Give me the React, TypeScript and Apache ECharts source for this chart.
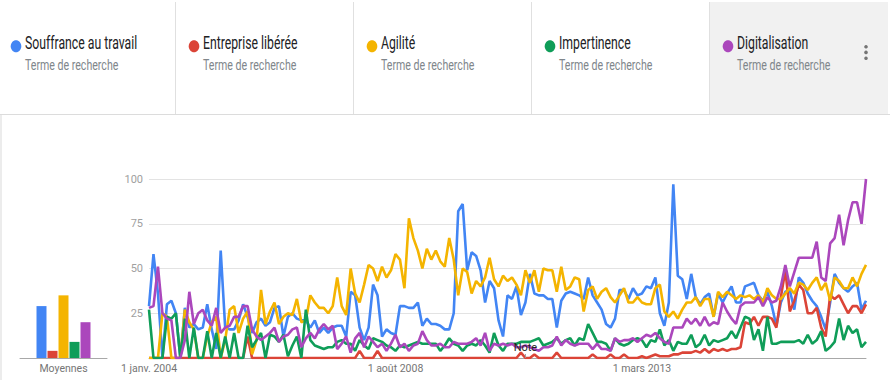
import React, { useEffect, useRef } from "react";
import * as echarts from "echarts";

const terms = ["Souffrance au travail", "Entreprise libérée", "Agilité", "Impertinence", "Digitalisation"];
const colors = ["#4285f4", "#db4437", "#f4b400", "#0f9d58", "#ab47bc"];
const subtitle = "Terme de recherche";
const averages = [29, 4, 35, 9, 20];
const avgLabel = "Moyennes";
const monthNames = ["janv.", "févr.", "mars", "avr.", "mai", "juin", "juil.", "août", "sept.", "oct.", "nov.", "déc."];
const startYear = 2004;
const noteIndex = 84;

const blue = [
  29, 58, 36, 0, 30, 32, 25, 0, 28, 17, 19, 16, 17, 30, 16, 5, 60, 17, 16, 16, 21, 30, 23,
  14, 20, 22, 18, 20, 28, 29, 12, 23, 25, 22, 21, 21, 17, 21, 14, 17, 14, 17, 18, 18, 12,
  37, 35, 17, 10, 17, 41, 35, 12, 16, 14, 13, 29, 29, 28, 28, 31, 18, 22, 19, 19, 18, 16, 16,
  25, 82, 86, 49, 59, 57, 49, 31, 43, 39, 21, 12, 35, 33, 40, 24, 31, 47, 36, 35, 35, 33,
  33, 17, 32, 36, 37, 36, 35, 33, 45, 35, 31, 27, 19, 17, 22, 38, 38, 33, 39, 35, 36, 40,
  39, 45, 25, 18, 31, 97, 46, 44, 33, 47, 34, 30, 34, 36, 23, 36, 31, 36, 40, 31, 31, 40,
  41, 42, 35, 32, 37, 29, 18, 31, 37, 38, 27, 45, 42, 36, 32, 29, 23, 16, 31, 47, 42, 39, 37, 40, 42, 27, 32,
];
const red = [
  0, 0, 0, 0, 0, 0, 0, 0, 0, 0, 0, 0, 0, 0, 0, 0, 0, 0, 0, 0, 0, 0, 12,
  0, 0, 0, 0, 0, 0, 0, 0, 0, 0, 0, 0, 0, 0, 0, 0, 0, 0, 0, 0, 0, 0,
  0, 0, 4, 0, 0, 0, 4, 0, 0, 0, 0, 0, 0, 0, 0, 0, 0, 0, 0, 0, 0, 0, 0,
  0, 0, 0, 0, 0, 0, 0, 0, 0, 0, 0, 0, 0, 0, 0, 3, 0, 0, 2, 0, 0, 0,
  0, 3, 0, 0, 0, 0, 0, 0, 0, 2, 0, 0, 0, 2, 0, 0, 2, 0, 0, 0, 1, 0,
  1, 2, 1, 1, 1, 2, 2, 3, 3, 3, 4, 3, 5, 3, 5, 4, 5, 4, 5, 5, 6, 20,
  19, 23, 18, 23, 23, 22, 17, 34, 49, 26, 32, 41, 38, 25, 25, 28, 17, 12, 35, 33, 35, 30, 25, 29, 29, 25, 30,
];
const yellow = [
  0, 0, 0, 25, 23, 0, 0, 0, 27, 20, 16, 0, 0, 12, 20, 23, 0, 10, 27, 29, 14, 22, 26,
  2, 10, 38, 19, 26, 31, 19, 23, 25, 24, 33, 20, 21, 35, 31, 28, 28, 25, 29, 45, 29, 24,
  50, 36, 31, 41, 52, 50, 43, 51, 45, 49, 58, 55, 39, 78, 67, 60, 50, 61, 55, 60, 54, 51, 67,
  55, 35, 50, 48, 36, 43, 40, 45, 56, 44, 40, 46, 43, 45, 41, 35, 49, 42, 49, 37, 50, 49,
  49, 37, 51, 38, 40, 45, 44, 26, 38, 40, 33, 37, 39, 34, 31, 35, 39, 31, 31, 34, 31, 30,
  30, 39, 41, 26, 23, 26, 22, 27, 31, 31, 34, 29, 33, 33, 23, 37, 34, 37, 35, 33, 35, 34,
  35, 33, 35, 31, 39, 35, 33, 33, 36, 39, 36, 42, 41, 38, 42, 45, 38, 42, 32, 45, 43, 39, 39, 45, 40, 47, 52,
];
const green = [
  27, 0, 0, 0, 23, 22, 25, 0, 22, 0, 17, 0, 0, 15, 0, 14, 0, 12, 0, 14, 0, 0, 18,
  6, 10, 14, 0, 13, 12, 9, 13, 1, 7, 12, 0, 27, 10, 7, 6, 5, 6, 6, 9, 10, 8,
  8, 4, 10, 7, 5, 11, 10, 9, 7, 6, 4, 7, 6, 7, 8, 9, 8, 8, 8, 8, 4, 7, 11,
  8, 7, 4, 7, 8, 7, 10, 7, 3, 14, 7, 4, 8, 8, 8, 9, 9, 9, 10, 11, 7, 8,
  9, 11, 8, 10, 11, 7, 11, 10, 19, 14, 9, 9, 8, 4, 11, 8, 7, 8, 10, 11, 10, 6,
  10, 9, 16, 7, 10, 4, 9, 8, 8, 13, 6, 8, 13, 7, 10, 9, 10, 11, 15, 11, 17, 23,
  22, 10, 16, 4, 23, 8, 8, 9, 9, 9, 9, 10, 8, 13, 8, 10, 15, 4, 6, 9, 22, 10, 18, 14, 16, 6, 9,
];
const purple = [
  28, 29, 51, 25, 22, 21, 0, 0, 10, 37, 19, 25, 27, 21, 18, 28, 14, 17, 18, 23, 23, 29, 29,
  16, 12, 10, 12, 14, 17, 9, 12, 13, 16, 17, 6, 11, 14, 11, 16, 19, 16, 18, 5, 8, 12,
  3, 11, 14, 6, 12, 9, 6, 8, 4, 8, 13, 6, 8, 4, 7, 8, 15, 10, 7, 7, 8, 6, 6,
  9, 8, 8, 8, 9, 11, 7, 14, 4, 8, 7, 8, 7, 8, 6, 6, 7, 6, 5, 4, 6, 6,
  7, 12, 7, 10, 8, 7, 8, 8, 8, 5, 8, 5, 5, 4, 11, 9, 10, 10, 11, 9, 11, 13,
  12, 14, 11, 9, 8, 17, 17, 17, 22, 19, 22, 18, 23, 18, 20, 19, 31, 26, 22, 19, 29, 31,
  31, 31, 34, 29, 34, 31, 32, 40, 52, 40, 48, 56, 56, 56, 56, 65, 45, 43, 64, 67, 80, 63, 77, 87, 87, 75, 100,
];

const seriesValues = [blue, red, yellow, green, purple];
const categories = blue.map((_, i) => `1 ${monthNames[i % 12]} ${startYear + Math.floor(i / 12)}`);

const FONT = "Roboto, 'Noto Sans', sans-serif";

function buildHeader() {
  const els: any[] = [];
  const cardW = 178;
  els.push({ type: "rect", shape: { x: 709, y: 2, width: 179, height: 112 }, style: { fill: "#f1f1f1" }, silent: true });
  for (let i = 1; i < 5; i++) {
    const x = 175 + (i - 1) * cardW + 0.5;
    els.push({ type: "line", shape: { x1: x, y1: 2, x2: x, y2: 114 }, style: { stroke: "#e0e0e0", lineWidth: 1 }, silent: true });
  }
  els.push({ type: "line", shape: { x1: 0, y1: 114.5, x2: 890, y2: 114.5 }, style: { stroke: "#dcdcdc", lineWidth: 1 }, silent: true });
  els.push({ type: "rect", shape: { x: 0, y: 115, width: 2, height: 265 }, style: { fill: "#ececec" }, silent: true });
  terms.forEach((t, i) => {
    const dx = 16 + i * cardW;
    els.push({ type: "ellipse", shape: { cx: dx, cy: 46.3, rx: 5.3, ry: 6 }, style: { fill: colors[i] }, silent: true });
    els.push({
      type: "text", x: dx + 9, y: 43.4, scaleX: 0.7,
      style: { text: t, x: 0, y: 0, fill: "#202124", font: `17.5px ${FONT}`, verticalAlign: "middle", align: "left" },
      silent: true,
    });
    els.push({
      type: "text", x: dx + 9, y: 64.5, scaleX: 0.757,
      style: { text: subtitle, x: 0, y: 0, fill: "#80868b", font: `14px ${FONT}`, verticalAlign: "middle", align: "left" },
      silent: true,
    });
  });
  [46.7, 52.4, 58.2].forEach((cy) => {
    els.push({ type: "circle", shape: { cx: 866, cy, r: 1.8 }, style: { fill: "#757575" }, silent: true });
  });
  return els;
}

export default function App() {
  const ref = useRef<HTMLDivElement>(null);
  useEffect(() => {
    if (!ref.current) return;
    const chart = echarts.init(ref.current, undefined, { renderer: "svg" });
    const lineSeries = seriesValues.map((vals, i) => {
      const s: any = {
        type: "line",
        name: terms[i],
        xAxisIndex: 0,
        yAxisIndex: 0,
        data: vals,
        showSymbol: false,
        symbol: "none",
        lineStyle: { color: colors[i], width: 2.6 },
        itemStyle: { color: colors[i] },
        z: 3,
      };
      if (i === 1) {
        s.markPoint = {
          symbol: "rect",
          symbolSize: [1, 4],
          symbolOffset: [0, -2],
          itemStyle: { color: "#9e9e9e" },
          label: { show: true, position: "top", distance: 1, formatter: "Note", color: "#222", fontSize: 11, fontFamily: FONT },
          data: [{ coord: [categories[noteIndex], 0] }],
        };
      }
      return s;
    });
    const barSeries = averages.map((v, i) => ({
      type: "bar",
      name: terms[i] + " (moyenne)",
      xAxisIndex: 1,
      yAxisIndex: 1,
      data: [v],
      barWidth: 10,
      barGap: "10%",
      itemStyle: { color: colors[i] },
    }));
    chart.setOption({
      animation: false,
      backgroundColor: "#ffffff",
      textStyle: { fontFamily: FONT },
      grid: [
        { left: 149, right: 24, top: 179, bottom: 22 },
        { left: 20, width: 87, top: 179, bottom: 22 },
      ],
      xAxis: [
        {
          type: "category",
          gridIndex: 0,
          data: categories,
          boundaryGap: false,
          axisTick: { show: false },
          axisLine: { lineStyle: { color: "#a8a8a8", width: 1 } },
          axisLabel: { interval: 54, color: "#757575", fontSize: 10.5, fontFamily: FONT, margin: 5 },
          splitLine: { show: false },
        },
        {
          type: "category",
          gridIndex: 1,
          data: [avgLabel],
          axisTick: { show: false },
          axisLine: { lineStyle: { color: "#a8a8a8", width: 1 } },
          axisLabel: { color: "#757575", fontSize: 10.5, fontFamily: FONT, margin: 5 },
        },
      ],
      yAxis: [
        {
          type: "value",
          gridIndex: 0,
          min: 0,
          max: 100,
          interval: 25,
          axisLine: { show: false },
          axisTick: { show: false },
          axisLabel: { color: "#a0a0a0", fontSize: 11, margin: 6, formatter: (v: number) => (v === 0 ? "" : String(v)) },
          splitLine: { lineStyle: { color: "#e3e3e3", width: 1 } },
        },
        { type: "value", gridIndex: 1, min: 0, max: 100, show: false },
      ],
      graphic: buildHeader(),
      series: [...lineSeries, ...barSeries],
    });
    return () => chart.dispose();
  }, []);
  return (
    <div
      ref={ref}
      style={{ position: "absolute", left: 0, top: 0, width: 890, height: 380, background: "#fff" }}
    />
  );
}
